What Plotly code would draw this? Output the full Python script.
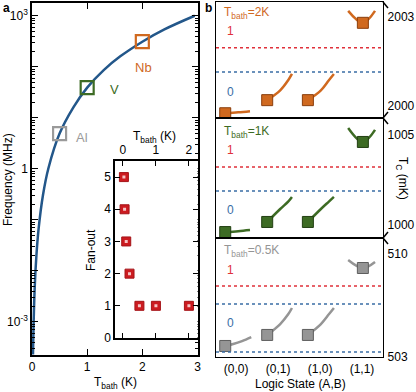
"""Two-panel figure: resonator frequency vs bath temperature, and logic-state Tc."""

import plotly.graph_objects as go

W, H = 416, 392
FONT = "Liberation Sans, Arial, sans-serif"

# ---- panel a: frequency curve ----
T_CURVE = [0.018, 0.03, 0.05, 0.08, 0.12, 0.2, 0.3, 0.5, 0.75, 1.0, 1.3, 1.6, 2.0, 2.4, 2.95]
F_CURVE = [0.00023, 0.001, 0.005, 0.02, 0.067, 0.31, 1.05, 4.9, 16, 39, 86, 160, 310, 540, 1000]

MATERIALS = ["Al", "V", "Nb"]
MAT_T = [0.5, 1.0, 2.0]
MAT_F = [4.9, 39, 310]
MAT_COLORS = ["#9a9a9a", "#3d6b24", "#d0691f"]

# inset: fan-out vs T_bath
FAN_T = [0.03, 0.05, 0.1, 0.2, 0.5, 1.0, 2.0]
FAN_OUT = [5, 4, 3, 2, 1, 1, 1]

# ---- panel b: logic states ----
STATES = ["(0,0)", "(0,1)", "(1,0)", "(1,1)"]
STATE_POS = [0, 1, 2, 3]
MARK_X = [-0.26, 0.74, 1.71, 3.02]

TC_2K = [1999.76, 2000.2, 2000.2, 2002.8]
TC_1K = [999.61, 1000.17, 1000.17, 1004.61]
TC_05K = [503.75, 504.5, 504.5, 509.05]

PATH_X = [[-0.26, 0.05, 0.33], [0.74, 1.05, 1.24, 1.33], [1.71, 2.02, 2.21, 2.33], [2.67, 3.02, 3.31]]
PATH_X_05K = [[-0.26, -0.07, 0.14, 0.36], [0.74, 1.05, 1.24, 1.33], [1.71, 2.02, 2.21, 2.33], [2.67, 3.02, 3.31]]
PATH_2K = [[1999.76, 1999.79, 1999.83], [2000.2, 2000.53, 2000.87, 2001.08],
           [2000.2, 2000.53, 2000.87, 2001.08], [2003.2, 2002.8, 2003.2]]
PATH_1K = [[999.61, 999.66, 999.72], [1000.17, 1000.89, 1001.3, 1001.56],
           [1000.17, 1000.89, 1001.3, 1001.56], [1005.39, 1004.61, 1005.28]]
PATH_05K = [[503.75, 503.88, 504.08, 504.35], [504.5, 505.24, 505.9, 506.33],
            [504.5, 505.24, 505.9, 506.33], [509.6, 509.05, 509.46]]

THRESH_1 = [2001.96, 1003.22, 507.82]
THRESH_0 = [[2001.15], [1001.89], [506.6, 503.34]]

Y_RANGES = [[1999.6, 2003.5], [999.28, 1005.94], [503.0, 511.09]]
Y_TICKS = [[2000, 2003], [1000, 1005], [503, 510]]
PANEL_LABELS = ["T<sub>bath</sub>=2K", "T<sub>bath</sub>=1K", "T<sub>bath</sub>=0.5K"]
PANEL_COLORS = ["#d0691f", "#3d6b24", "#959595"]
PANEL_EDGES = ["#8a3e0c", "#223f12", "#5e5e5e"]

RED = "#e0303a"
BLUE = "#3a6ea5"


def px(x):
    return x / W


def py(y):
    return 1 - y / H


def build_figure():
    fig = go.Figure()

    # panel a main curve + material markers
    fig.add_trace(go.Scatter(
        x = T_CURVE, y = F_CURVE, mode = 'lines', line_shape = 'spline',
        line = dict(color = "#23578a", width = 2.5), xaxis = 'x', yaxis = 'y',
    ))
    fig.add_trace(go.Scatter(
        x = MAT_T, y = MAT_F, mode = 'markers', xaxis = 'x', yaxis = 'y',
        marker = dict(symbol = 'square-open', size = 13, color = MAT_COLORS,
                      line = dict(width = 2.2, color = MAT_COLORS)),
    ))

    # inset
    fig.add_trace(go.Scatter(
        x = FAN_T, y = FAN_OUT, mode = 'markers', xaxis = 'x2', yaxis = 'y2',
        marker = dict(symbol = 'square', size = 9, color = "#cc1b20",
                      line = dict(width = 1, color = "#a51418")),
    ))
    fig.add_trace(go.Scatter(
        x = FAN_T, y = FAN_OUT, mode = 'markers', xaxis = 'x2', yaxis = 'y2',
        marker = dict(symbol = 'square', size = 3, color = "#f6c4c4", line = dict(width = 0)),
    ))

    # panel b
    tcs = [TC_2K, TC_1K, TC_05K]
    paths = [PATH_2K, PATH_1K, PATH_05K]
    for i in range(3):
        xa, ya = f"x{i + 3}", f"y{i + 3}"
        px_list = PATH_X_05K if i == 2 else PATH_X
        for xs, ys in zip(px_list, paths[i]):
            fig.add_trace(go.Scatter(
                x = xs, y = ys, mode = 'lines', line_shape = 'spline', xaxis = xa, yaxis = ya,
                line = dict(color = PANEL_COLORS[i], width = 2.5),
            ))
        fig.add_trace(go.Scatter(
            x = MARK_X, y = tcs[i], mode = 'markers', xaxis = xa, yaxis = ya,
            marker = dict(symbol = 'square', size = 11, color = PANEL_COLORS[i],
                          line = dict(width = 1, color = PANEL_EDGES[i])),
        ))
        fig.add_shape(type = 'line', xref = f"{xa} domain", yref = ya, x0 = 0, x1 = 1,
                      y0 = THRESH_1[i], y1 = THRESH_1[i], line = dict(color = RED, width = 1.5, dash = 'dot'))
        for v in THRESH_0[i]:
            fig.add_shape(type = 'line', xref = f"{xa} domain", yref = ya, x0 = 0, x1 = 1,
                          y0 = v, y1 = v, line = dict(color = BLUE, width = 1.5, dash = 'dot'))

    axis_common = dict(showline = True, linecolor = 'black', linewidth = 1.5, mirror = 'allticks',
                       ticks = 'inside', tickcolor = 'black', showgrid = False, zeroline = False,
                       automargin = False, tickfont = dict(size = 12, color = 'black'))

    minor_vals = [m * 10 ** k for k in range(-4, 4) for m in range(2, 10)]
    decades = [10.0 ** k for k in range(-3, 4)]
    dec_text = ["10<sup>-3</sup>", "", "", "1", "", "", "10<sup>3</sup>"]

    layout = dict(
        width = W, height = H, margin = dict(l = 0, r = 0, t = 0, b = 0, autoexpand = False),
        paper_bgcolor = 'white', plot_bgcolor = 'white', showlegend = False,
        font = dict(family = FONT, size = 12, color = 'black'),
        xaxis = dict(axis_common, domain = [px(32), px(197.5)], range = [0, 3],
                     tickvals = [0, 1, 2, 3], ticklen = 6, anchor = 'y'),
        yaxis = dict(axis_common, domain = [py(355), py(3)], type = 'log', range = [-3.65, 3.25],
                     tickvals = decades, ticktext = dec_text, ticklen = 6, anchor = 'x',
                     minor = dict(tickvals = minor_vals, ticks = 'inside', ticklen = 3, tickcolor = 'black')),
        xaxis2 = dict(axis_common, domain = [px(115), px(197.5)], range = [-0.24, 2.26],
                      tickvals = [0, 1, 2], side = 'top', ticklen = 5, anchor = 'y2'),
        yaxis2 = dict(axis_common, domain = [py(338), py(161)], range = [0, 5.5],
                      tickvals = [0, 1, 2, 3, 4, 5], ticklen = 5, anchor = 'x2'),
    )

    b_domains = [[py(118), py(2)], [py(238), py(118)], [py(357), py(238)]]
    for i in range(3):
        n = i + 3
        layout[f"xaxis{n}"] = dict(
            domain = [px(216), px(383)], range = [-0.48, 3.5], anchor = f"y{n}",
            showline = True, linecolor = 'black', linewidth = 1.3, mirror = True,
            showgrid = False, zeroline = False, ticks = '', ticklen = 0, automargin = False,
            tickvals = STATE_POS, ticktext = STATES, showticklabels = (i == 2),
            tickfont = dict(size = 12, color = 'black'),
        )
        layout[f"yaxis{n}"] = dict(
            domain = b_domains[i], range = Y_RANGES[i], anchor = f"x{n}", side = 'right',
            showline = True, linecolor = 'black', linewidth = 1.3, mirror = True, automargin = False,
            showgrid = False, zeroline = False, ticks = '', ticklen = 0, tickvals = Y_TICKS[i],
            ticklabelstandoff = 1, tickfont = dict(size = 12, color = 'black'),
        )
    fig.update_layout(**layout)

    # break marks on the right axis of panel b
    marks = [(2, 8), (118, 112), (118, 124), (238, 232), (238, 244)]
    for y0, y1 in marks:
        fig.add_shape(type = 'line', xref = 'paper', yref = 'paper', x0 = px(383), x1 = px(388),
                      y0 = py(y0), y1 = py(y1), line = dict(color = 'black', width = 1.5))

    ann = []

    def text(x, y, s, size = 12, color = 'black', angle = 0, xanchor = 'center', bold = False):
        ann.append(dict(x = px(x), y = py(y), xref = 'paper', yref = 'paper', text = f"<b>{s}</b>" if bold else s,
                        showarrow = False, xanchor = xanchor, yanchor = 'middle', textangle = angle,
                        font = dict(size = size, color = color, family = FONT)))

    text(1, 8, "a", 12, xanchor = 'left', bold = True)
    text(203, 8, "b", 12, xanchor = 'left', bold = True)
    text(8, 180, "Frequency (MHz)", 12, angle = -90)
    text(115, 383, "T<sub>bath</sub> (K)", 12)
    text(154, 137, "T<sub>bath</sub> (K)", 12)
    text(91, 250, "Fan-out", 12, angle = -90)
    for name, c, (x, y) in zip(MATERIALS, MAT_COLORS, [(82, 137), (114, 89), (143, 68)]):
        text(x, y, name, 13, c)

    for i, (y_lab, y1, y0) in enumerate([(13, 31, 92), (132, 150, 210), (251, 270, 323)]):
        text(222, y_lab, PANEL_LABELS[i], 12, PANEL_COLORS[i], xanchor = 'left')
        text(230, y1, "1", 12, RED)
        text(230, y0, "0", 12, BLUE)
    text(402, 178, "T<sub>C</sub> (mK)", 12, angle = 90)
    text(300, 384, "Logic State (A,B)", 12)

    fig.update_layout(annotations = ann)
    return fig


def main():
    fig = build_figure()
    # page has the browser's default 8px body margin; drop it so the figure fills the window
    fig.write_html("out.html", config = {'displayModeBar': False},
                   post_script = "document.body.style.margin = '0';")


if __name__ == '__main__':
    main()
